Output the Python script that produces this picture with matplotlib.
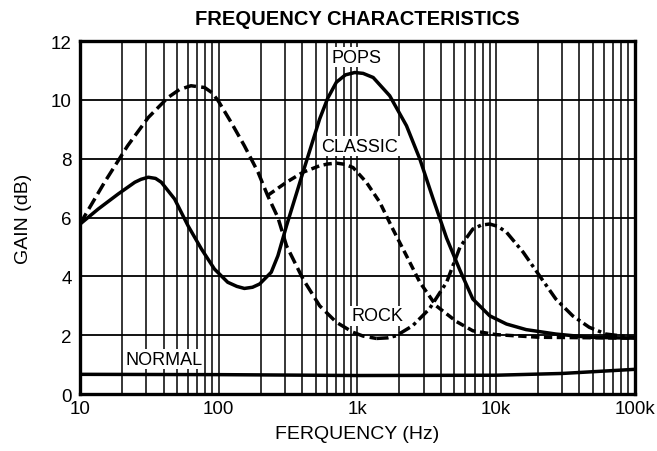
import matplotlib.pyplot as plt
import numpy as np
from matplotlib.ticker import FixedLocator, LogLocator, NullFormatter

# values
pops_freq = [10, 13.5, 18.8, 24.8, 27.5, 31, 35, 38.5, 48, 60, 75, 93, 116, 135, 153, 175,
             197, 239, 267, 308, 405, 534, 610, 705, 820, 957, 1100, 1300, 1710, 2260, 2820,
             3520, 4400, 5500, 6800, 9000, 11900, 16500, 27000, 47000, 100000]
pops_gain = [5.78, 6.29, 6.8, 7.2, 7.3, 7.37, 7.33, 7.2, 6.63, 5.72, 4.93, 4.25, 3.8, 3.66,
             3.59, 3.63, 3.74, 4.14, 4.7, 5.72, 7.54, 9.35, 10.05, 10.6, 10.85, 10.93, 10.9,
             10.76, 10.14, 9.12, 7.99, 6.63, 5.3, 4.2, 3.23, 2.66, 2.38, 2.19, 2.04, 1.93, 1.9]

rock_freq = [10, 10.8, 15, 22, 31, 43, 52, 63, 79, 89, 99, 123, 153, 192, 225, 267, 308, 405,
             534, 705, 930, 1100, 1370, 1650, 1900, 2500, 3300, 4400, 5500, 6800, 7800, 9000,
             10300, 11900, 15700, 20600, 27000, 35700, 47000, 62000, 100000]
rock_gain = [5.78, 6.06, 7.2, 8.44, 9.4, 10.08, 10.35, 10.48, 10.42, 10.25, 9.97, 9.23, 8.44,
             7.54, 6.75, 6.0, 5.04, 3.91, 3.0, 2.44, 2.1, 1.97, 1.89, 1.91, 1.98, 2.32, 2.89,
             3.8, 5.0, 5.61, 5.74, 5.78, 5.7, 5.5, 4.82, 4.02, 3.23, 2.66, 2.27, 2.04, 1.92]

classic_freq = [225, 308, 405, 534, 610, 705, 810, 930, 1160, 1450, 1800, 2260, 2820, 3700,
                5200, 6800, 10000, 20600, 100000]
classic_gain = [6.75, 7.2, 7.54, 7.76, 7.82, 7.85, 7.81, 7.7, 7.2, 6.52, 5.61, 4.7, 3.8, 3.0,
                2.46, 2.15, 2.02, 1.93, 1.9]

normal_freq = [10, 100, 1000, 10000, 30000, 100000]
normal_gain = [0.67, 0.66, 0.63, 0.64, 0.7, 0.84]

curve_labels = ["POPS", "CLASSIC", "ROCK", "NORMAL"]
label_freq = [990, 1040, 1400, 40]
label_gain = [11.45, 8.42, 2.66, 1.19]

x_ticks = [10, 100, 1000, 10000, 100000]
x_tick_labels = ["10", "100", "1k", "10k", "100k"]
y_ticks = [0, 2, 4, 6, 8, 10, 12]

plt.rcParams["font.family"] = ["Liberation Sans", "DejaVu Sans"]

fig = plt.figure(figsize=(6.57, 4.52), dpi=100)
ax = fig.add_axes([0.122, 0.126, 0.844, 0.781])

ax.set_xscale("log")
ax.set_xlim(10, 100000)
ax.set_ylim(0, 12)

ax.xaxis.set_major_locator(FixedLocator(x_ticks))
ax.set_xticklabels(x_tick_labels)
ax.xaxis.set_minor_locator(LogLocator(base=10, subs=np.arange(2, 10)))
ax.xaxis.set_minor_formatter(NullFormatter())
ax.set_yticks(y_ticks)

ax.grid(True, which="both", axis="x", color="black", linewidth=1.1)
ax.grid(True, which="major", axis="y", color="black", linewidth=1.3)
ax.tick_params(which="both", length=0, labelsize=13.5)
ax.tick_params(axis="x", pad=4)
ax.tick_params(axis="y", pad=6)
for spine in ax.spines.values():
    spine.set_linewidth(2.4)

lw = 2.5
ax.plot(pops_freq, pops_gain, color="black", linewidth=lw)
ax.plot(normal_freq, normal_gain, color="black", linewidth=lw)

# rock: dashed through the bass part, dash-dot after the dip
split = int(np.argmin(rock_gain[:26]))
ax.plot(rock_freq[: split + 1], rock_gain[: split + 1], color="black", linewidth=lw,
        linestyle=(0, (3.5, 1.5)))
ax.plot(rock_freq[split:], rock_gain[split:], color="black", linewidth=lw,
        linestyle=(0, (3.5, 1.2, 1.0, 1.2)))
ax.plot(classic_freq, classic_gain, color="black", linewidth=lw, linestyle=(0, (2.4, 1.3)))

for name, fx, gy in zip(curve_labels, label_freq, label_gain):
    ax.text(fx, gy, name, ha="center", va="center", fontsize=13, zorder=5,
            bbox=dict(facecolor="white", edgecolor="none", pad=1.0))

ax.set_title("FREQUENCY CHARACTERISTICS", fontsize=14.5, fontweight="bold", pad=12)
ax.set_xlabel("FERQUENCY (Hz)", fontsize=14, labelpad=6)
ax.set_ylabel("GAIN (dB)", fontsize=14, labelpad=14)

fig.savefig("out.png", dpi=100)
